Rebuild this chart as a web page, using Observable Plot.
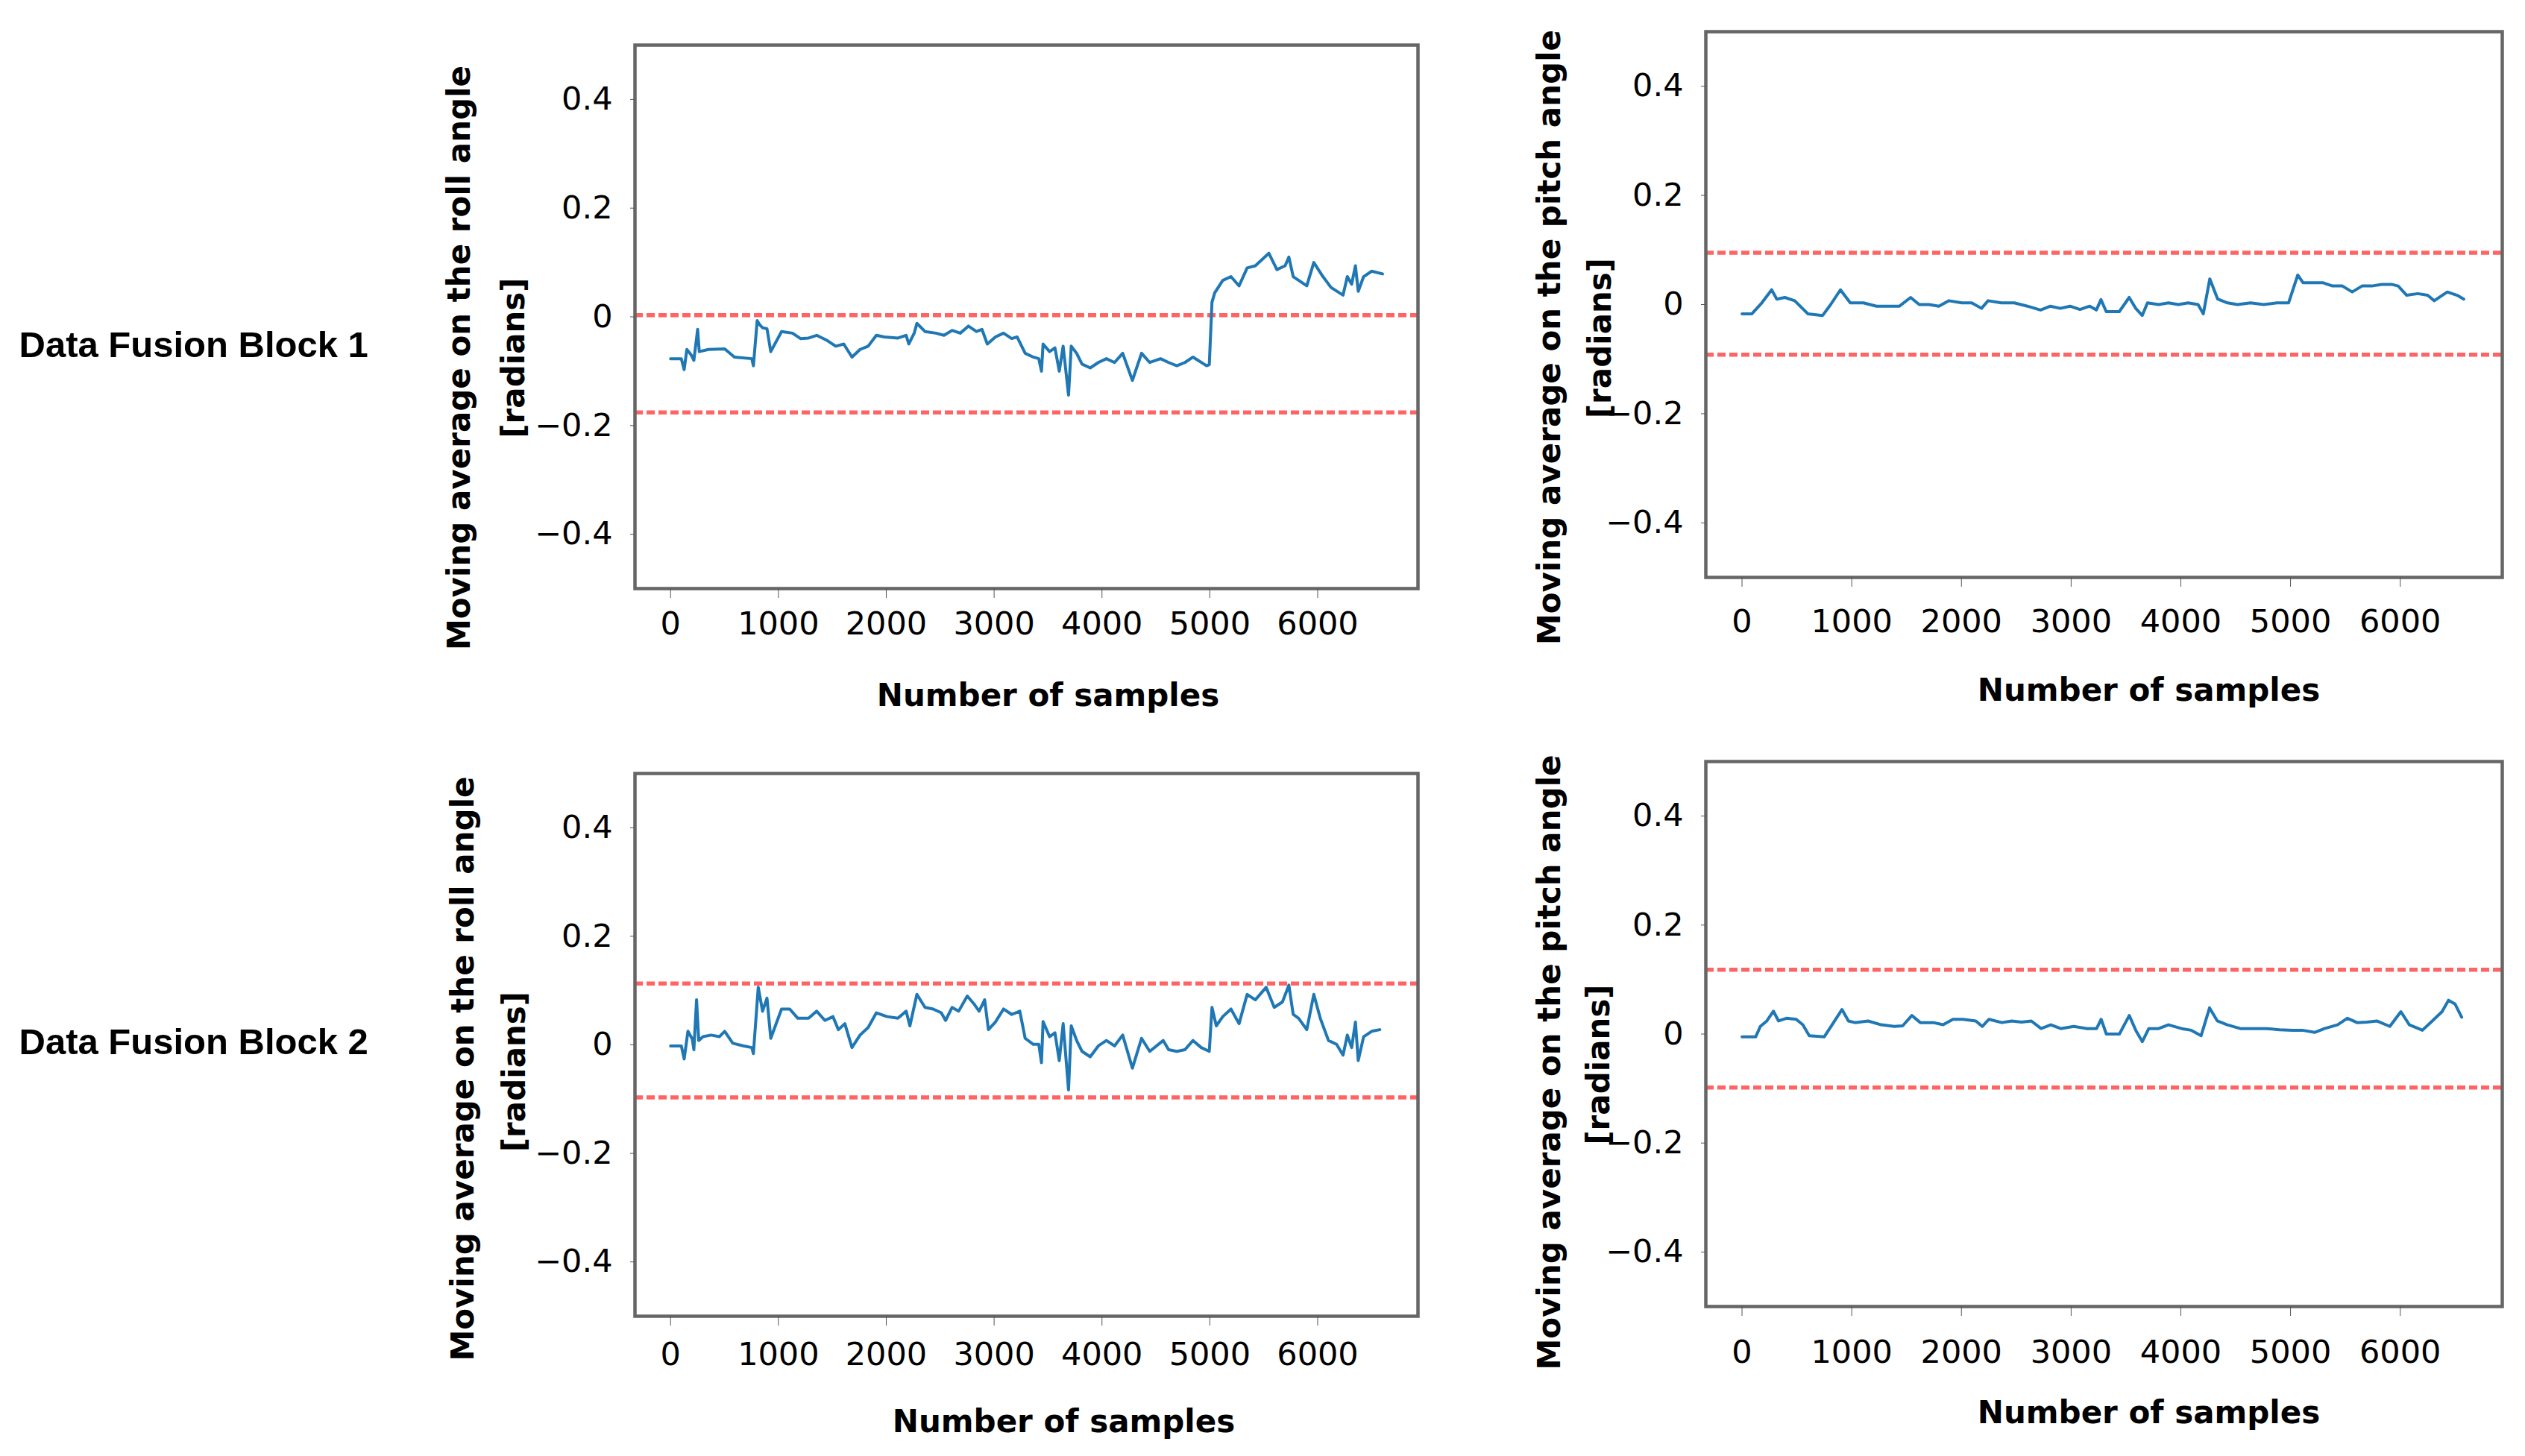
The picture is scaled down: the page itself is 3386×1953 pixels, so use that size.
<!DOCTYPE html>
<html>
<head>
<meta charset="utf-8">
<script src="https://cdn.jsdelivr.net/npm/d3@7"></script>
<script src="https://cdn.jsdelivr.net/npm/@observablehq/plot@0.6"></script>
<style>
  html, body { margin: 0; padding: 0; background: #fff; }
  #page { position: relative; width: 3386px; height: 1953px; overflow: hidden; background: #fff; }
  #page > div { position: absolute; }
</style>
</head>
<body>
<div id="page"></div>
<script>
// ---------- data ----------
const rowLabels = ["Data Fusion Block 1", "Data Fusion Block 2"];
const rollLabel = "Moving average on the roll angle";
const pitchLabel = "Moving average on the pitch angle";
const unitLabel = "[radians]";
const xLabel = "Number of samples";
const xTicks = [0, 1000, 2000, 3000, 4000, 5000, 6000];
const yTicks = [-0.4, -0.2, 0, 0.2, 0.4];

// Block 1 – roll
const roll1X = [0,100,126,151,191,216,251,266,351,502,592,753,768,803,828,853,894,929,1029,1130,1205,1280,1355,1456,1531,1606,1682,1757,1832,1908,1983,2108,2184,2209,2259,2284,2359,2460,2535,2610,2686,2761,2836,2887,2937,3012,3087,3163,3213,3288,3363,3414,3439,3454,3514,3564,3604,3640,3690,3715,3765,3815,3891,3966,4041,4116,4192,4282,4367,4443,4543,4618,4694,4769,4844,4970,4995,5020,5045,5120,5196,5271,5346,5422,5547,5622,5698,5733,5773,5899,5964,6049,6124,6235,6275,6315,6350,6376,6426,6501,6601];
const roll1Y = [-0.077,-0.077,-0.097,-0.060,-0.070,-0.080,-0.023,-0.064,-0.060,-0.059,-0.074,-0.077,-0.090,-0.007,-0.015,-0.020,-0.022,-0.064,-0.027,-0.030,-0.040,-0.039,-0.034,-0.044,-0.054,-0.050,-0.074,-0.060,-0.054,-0.034,-0.037,-0.039,-0.034,-0.050,-0.030,-0.012,-0.027,-0.030,-0.034,-0.025,-0.030,-0.017,-0.027,-0.023,-0.050,-0.037,-0.030,-0.040,-0.037,-0.067,-0.074,-0.077,-0.100,-0.050,-0.064,-0.057,-0.100,-0.054,-0.144,-0.054,-0.067,-0.087,-0.094,-0.084,-0.077,-0.084,-0.067,-0.117,-0.067,-0.084,-0.077,-0.084,-0.090,-0.084,-0.074,-0.090,-0.088,0.027,0.044,0.067,0.074,0.057,0.090,0.094,0.117,0.087,0.094,0.110,0.074,0.057,0.100,0.074,0.054,0.040,0.074,0.060,0.094,0.047,0.074,0.084,0.079];
const roll1Limits = [0.003, -0.176];

// Block 1 – pitch
const pitch1X = [0,90,180,270,317,390,480,600,735,808,897,987,1107,1226,1346,1435,1537,1615,1705,1794,1884,2004,2094,2183,2243,2363,2482,2602,2721,2811,2901,2990,3080,3170,3230,3272,3320,3439,3529,3589,3648,3696,3798,3888,3978,4067,4157,4205,4264,4336,4426,4516,4635,4755,4874,4982,5066,5114,5203,5293,5383,5473,5562,5652,5742,5831,5921,5981,6059,6160,6250,6310,6429,6519,6579];
const pitch1Y = [-0.017,-0.017,0.003,0.027,0.010,0.013,0.007,-0.017,-0.020,0.000,0.027,0.003,0.003,-0.003,-0.003,-0.003,0.013,0.000,0.000,-0.003,0.007,0.003,0.003,-0.007,0.007,0.003,0.003,-0.003,-0.010,-0.003,-0.007,-0.003,-0.009,-0.003,-0.010,0.009,-0.013,-0.013,0.013,-0.007,-0.020,0.003,0.000,0.003,0.000,0.003,0.000,-0.017,0.047,0.010,0.003,0.000,0.003,0.000,0.003,0.003,0.054,0.040,0.040,0.040,0.034,0.034,0.023,0.034,0.034,0.037,0.037,0.034,0.017,0.020,0.017,0.007,0.023,0.017,0.010];
const pitch1Limits = [0.095, -0.092];

// Block 2 – roll
const roll2X = [0,100,126,161,201,216,241,261,301,376,452,502,577,678,753,768,813,853,894,929,1029,1105,1180,1280,1355,1431,1506,1556,1616,1682,1757,1832,1908,2008,2108,2184,2219,2284,2359,2435,2510,2550,2610,2671,2751,2811,2861,2912,2947,3012,3087,3163,3238,3288,3363,3414,3439,3454,3514,3564,3604,3640,3690,3715,3765,3815,3891,3966,4041,4116,4192,4282,4367,4443,4568,4618,4694,4769,4844,4920,4995,5020,5060,5120,5196,5271,5346,5422,5522,5597,5673,5733,5773,5823,5899,5964,6024,6100,6175,6235,6275,6315,6350,6376,6426,6501,6576];
const roll2Y = [-0.002,-0.002,-0.026,0.025,0.011,-0.009,0.083,0.008,0.015,0.018,0.015,0.025,0.003,-0.002,-0.005,-0.016,0.106,0.062,0.086,0.012,0.066,0.066,0.049,0.049,0.062,0.045,0.052,0.028,0.039,-0.005,0.018,0.032,0.059,0.052,0.049,0.062,0.035,0.093,0.069,0.066,0.059,0.045,0.069,0.062,0.090,0.076,0.062,0.083,0.028,0.042,0.066,0.056,0.062,0.012,0.001,0.001,-0.033,0.043,0.015,0.022,-0.029,0.039,-0.083,0.035,0.008,-0.012,-0.022,-0.002,0.008,-0.002,0.018,-0.043,0.012,-0.012,0.008,-0.009,-0.012,-0.009,0.008,-0.005,-0.012,0.069,0.035,0.052,0.066,0.039,0.093,0.083,0.106,0.069,0.079,0.110,0.056,0.049,0.028,0.093,0.049,0.008,0.001,-0.019,0.018,-0.005,0.042,-0.029,0.015,0.025,0.028];
const roll2Limits = [0.113, -0.097];

// Block 2 – pitch
const pitch2X = [0,125,167,226,286,333,405,494,554,613,750,821,911,970,1030,1149,1268,1387,1464,1548,1625,1744,1833,1923,2012,2131,2190,2250,2369,2458,2548,2637,2726,2815,2905,3024,3143,3232,3274,3321,3440,3530,3589,3649,3708,3798,3887,4006,4095,4185,4262,4333,4423,4542,4661,4780,4899,5018,5107,5220,5310,5429,5518,5607,5696,5786,5905,6006,6083,6202,6292,6381,6440,6500,6560];
const pitch2Y = [-0.005,-0.005,0.014,0.024,0.042,0.024,0.029,0.027,0.017,-0.003,-0.005,0.017,0.045,0.024,0.021,0.024,0.017,0.014,0.015,0.034,0.021,0.021,0.017,0.027,0.027,0.024,0.014,0.027,0.021,0.024,0.022,0.024,0.010,0.017,0.010,0.014,0.010,0.010,0.027,0.000,0.000,0.034,0.007,-0.014,0.010,0.010,0.017,0.010,0.007,-0.003,0.048,0.024,0.017,0.010,0.010,0.010,0.008,0.007,0.007,0.003,0.010,0.017,0.029,0.021,0.022,0.024,0.014,0.041,0.017,0.007,0.024,0.041,0.062,0.055,0.031];
const pitch2Limits = [0.118, -0.098];

// ---------- drawing ----------
const page = document.getElementById("page");
const fmtY = d => d === 0 ? "0" : (d < 0 ? "\u2212" : "") + Math.abs(d).toFixed(1);

function panel(o) {
  const [sl, st, sw, sh] = o.svg;
  const [fx0, fy0, fx1, fy1] = o.frame;
  const marks = [
    Plot.ruleY(o.limits, {stroke: "#ff3d3d", strokeOpacity: 0.8, strokeWidth: 5.5, strokeDasharray: "11,5"}),
    Plot.line(o.xs, {x: o.xs, y: o.ys, stroke: "#1f77b4", strokeWidth: 4, strokeLinejoin: "round"}),
    Plot.frame({stroke: "#666", strokeWidth: 4.5}),
    Plot.axisX({ticks: xTicks, tickFormat: d => String(d), tickSize: 13, tickPadding: o.xPad, stroke: "#555", label: null, fontSize: 43}),
    Plot.axisY({ticks: yTicks, tickFormat: fmtY, tickSize: 6, tickPadding: 24, stroke: "#555", label: null, fontSize: 43}),
    Plot.text([o.ylabel], {text: d => d, frameAnchor: "left", textAnchor: "middle", lineAnchor: "middle", rotate: -90, dx: o.yl[0], dy: o.yl[1], fontSize: 42, fontWeight: "bold", fontFamily: "DejaVu Sans"}),
    Plot.text([unitLabel], {text: d => d, frameAnchor: "left", textAnchor: "middle", lineAnchor: "middle", rotate: -90, dx: o.ul[0], dy: o.ul[1], fontSize: 42, fontWeight: "bold", fontFamily: "DejaVu Sans"}),
    Plot.text([xLabel], {text: d => d, frameAnchor: "bottom", textAnchor: "middle", lineAnchor: "middle", dx: o.xl[0], dy: o.xl[1], fontSize: 42, fontWeight: "bold", fontFamily: "DejaVu Sans"})
  ];
  if (o.rowLabel) {
    marks.push(Plot.text([o.rowLabel], {text: d => d, frameAnchor: "left", textAnchor: "start", lineAnchor: "middle", dx: o.rl[0], dy: o.rl[1], fontSize: 49, fontWeight: "bold", fontFamily: "Liberation Sans"}));
  }
  const chart = Plot.plot({
    width: sw, height: sh,
    marginLeft: fx0 - sl, marginTop: fy0 - st,
    marginRight: sl + sw - fx1, marginBottom: st + sh - fy1,
    x: {domain: [-330, 6930]},
    y: {domain: [-0.5, 0.5]},
    style: {fontFamily: "DejaVu Sans", fontSize: "43px", color: "black", background: "transparent", overflow: "visible"},
    marks
  });
  const div = document.createElement("div");
  div.style.left = sl + "px";
  div.style.top = st + "px";
  div.appendChild(chart);
  page.appendChild(div);
}

panel({svg: [0, 0, 1930, 975], frame: [851, 60, 1901, 789], xs: roll1X, ys: roll1Y, limits: roll1Limits,
  ylabel: rollLabel, yl: [-235, 55], ul: [-162, 55], xl: [29, 144], xPad: 18,
  rowLabel: rowLabels[0], rl: [-826, 38]});
panel({svg: [1990, 0, 1396, 975], frame: [2287, 42, 3355, 774], xs: pitch1X, ys: pitch1Y, limits: pitch1Limits,
  ylabel: pitchLabel, yl: [-209, 44], ul: [-141, 45], xl: [60, 152], xPad: 30});
panel({svg: [0, 975, 1930, 978], frame: [851, 1037, 1901, 1765], xs: roll2X, ys: roll2Y, limits: roll2Limits,
  ylabel: rollLabel, yl: [-230, 32], ul: [-161, 36], xl: [50, 142], xPad: 22,
  rowLabel: rowLabels[1], rl: [-826, -3]});
panel({svg: [1990, 975, 1396, 978], frame: [2287, 1021, 3355, 1752], xs: pitch2X, ys: pitch2Y, limits: pitch2Limits,
  ylabel: pitchLabel, yl: [-209, 38], ul: [-143, 41], xl: [60, 143], xPad: 32});
</script>
</body>
</html>
